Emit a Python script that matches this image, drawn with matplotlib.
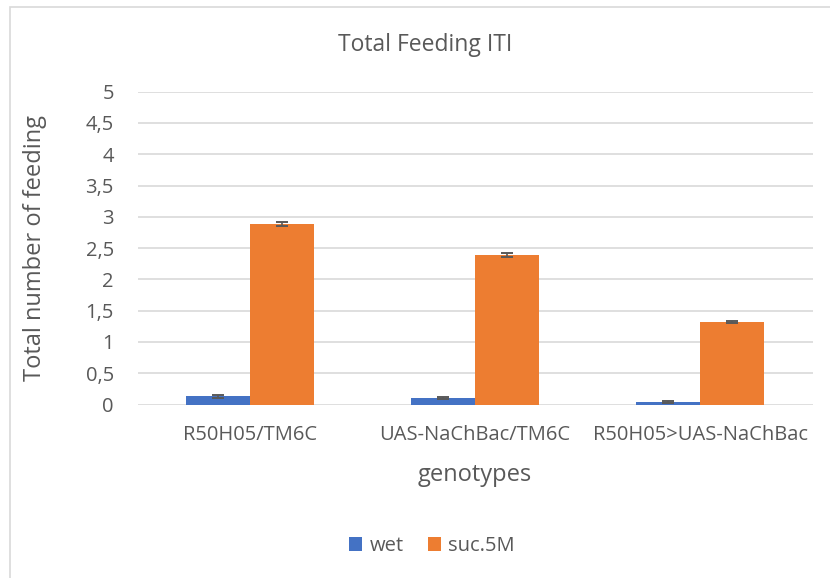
import matplotlib
matplotlib.use("Agg")
import matplotlib.pyplot as plt
import numpy as np
from matplotlib.patches import Rectangle

categories = ["R50H05/TM6C", "UAS-NaChBac/TM6C", "R50H05>UAS-NaChBac"]
series_names = ["wet", "suc.5M"]
wet_values = [0.13, 0.11, 0.04]
wet_errors = [0.02, 0.015, 0.01]
suc_values = [2.88, 2.39, 1.32]
suc_errors = [0.03, 0.03, 0.015]
y_ticks = [0, 0.5, 1, 1.5, 2, 2.5, 3, 3.5, 4, 4.5, 5]
y_tick_labels = ["0", "0,5", "1", "1,5", "2", "2,5", "3", "3,5", "4", "4,5", "5"]

plt.rcParams['font.family'] = ['Open Sans', 'DejaVu Sans']
TEXT = "#595959"
W, H = 830, 578
fig = plt.figure(figsize=(W / 100, H / 100), dpi=100)

# outer chart border
fig.patches.append(Rectangle((10 / W, -0.1), 1.2, 1 - 6.5 / H + 0.1, transform=fig.transFigure,
                             fill=False, edgecolor="#D9D9D9", linewidth=1.2, zorder=0))

ax_h = (404.5 - 91.7)
ax = fig.add_axes([137.5 / W, 1 - 404.5 / H, 675 / W, ax_h / H])
x = np.arange(len(categories))
bw = 0.284
err_kw = dict(ecolor="#595959", elinewidth=1.2, capsize=4.3, capthick=1.4)
ax.bar(x - bw / 2, wet_values, bw, color="#4472C4", yerr=wet_errors, error_kw=err_kw,
       label=series_names[0], zorder=3)
ax.bar(x + bw / 2, suc_values, bw, color="#ED7D31", yerr=suc_errors, error_kw=err_kw,
       label=series_names[1], zorder=3)

ax.set_xlim(-0.5, len(categories) - 0.5)
ax.set_ylim(0, 5)
ax.set_yticks(y_ticks)
ax.set_yticklabels(y_tick_labels)
ax.set_xticks(x)
ax.set_xticklabels(categories)
ax.tick_params(axis="both", length=0, labelsize=14.5, colors=TEXT)
ax.tick_params(axis="y", pad=17)
ax.tick_params(axis="x", pad=15)
for s in ax.spines.values():
    s.set_visible(False)
ax.yaxis.grid(True, color="#D9D9D9", linewidth=1.2, zorder=0)
ax.set_axisbelow(True)

ax.set_ylabel("Total number of feeding", fontsize=17, color=TEXT, va="center")
ax.yaxis.set_label_coords((35 - 137.5) / 675, 0.5)
ax.set_xlabel("genotypes", fontsize=17, color=TEXT, va="center")
ax.xaxis.set_label_coords(0.5, -(475 - 404.5) / ax_h)
fig.text(425 / W, 1 - 45 / H, "Total Feeding ITI", ha="center", va="center",
         fontsize=16.5, color=TEXT)

leg = fig.legend(loc="center", bbox_to_anchor=(432 / W, 1 - 546 / H), ncol=2, frameon=False,
                 fontsize=14.5, handlelength=0.65, handleheight=0.65, handletextpad=0.35,
                 columnspacing=1.2)
for t in leg.get_texts():
    t.set_color(TEXT)

fig.savefig("out.png", dpi=100)
